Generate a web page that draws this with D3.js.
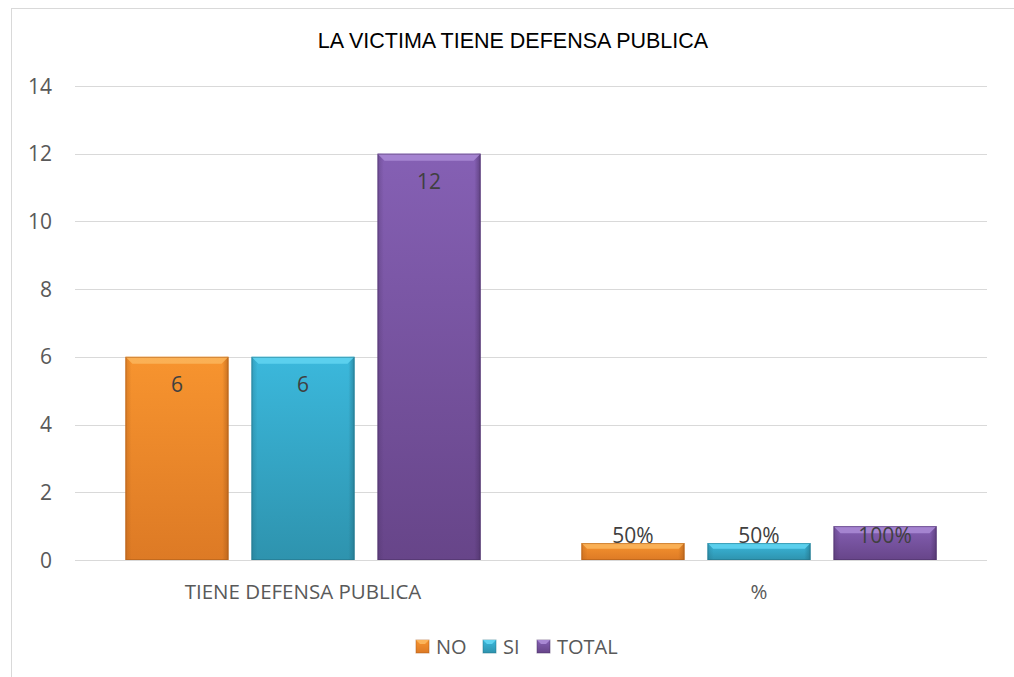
<!DOCTYPE html>
<html lang="es">
<head>
<meta charset="utf-8">
<title>LA VICTIMA TIENE DEFENSA PUBLICA</title>
<script src="https://d3js.org/d3.v7.min.js"></script>
<style>
  body{margin:0;background:#fff;}
  svg{display:block;}
</style>
</head>
<body>
<div id="chart"></div>
<script>
// data
var categories = ["TIENE DEFENSA PUBLICA", "%"]
var seriesNames = ["NO", "SI", "TOTAL"]
var noValues = [6, 0.5]
var siValues = [6, 0.5]
var totalValues = [12, 1]
var noLabels = ["6", "50%"]
var siLabels = ["6", "50%"]
var totalLabels = ["12", "100%"]
var yTicks = [0, 2, 4, 6, 8, 10, 12, 14]

var colors = {
  NO:    {light:"#fbb45a", mid:"#f7942f", dark:"#dd7a25", edge:"#a85a18"},
  SI:    {light:"#5fd3f0", mid:"#3bb8dc", dark:"#2e93ae", edge:"#226f84"},
  TOTAL: {light:"#a988d4", mid:"#8560b4", dark:"#674589", edge:"#4a3064"}
}
var font = "Open Sans, Liberation Sans, sans-serif"

var w = 1014, h = 677
var svg = d3.select("#chart").append("svg").attr("width", w).attr("height", h)

// outer chart frame
svg.append("rect").attr("x", 11.5).attr("y", 8.5).attr("width", w + 10).attr("height", h + 10)
  .attr("fill", "#fff").attr("stroke", "#d9d9d9").attr("stroke-width", 1)

// gradients for a bevelled look
var defs = svg.append("defs")
seriesNames.forEach(function(s){
  var c = colors[s]
  var g = defs.append("linearGradient").attr("id", "v-" + s).attr("x1", 0).attr("y1", 0).attr("x2", 0).attr("y2", 1)
  g.append("stop").attr("offset", "0%").attr("stop-color", c.mid)
  g.append("stop").attr("offset", "100%").attr("stop-color", c.dark)
  var gh = defs.append("linearGradient").attr("id", "h-" + s).attr("x1", 0).attr("y1", 0).attr("x2", 1).attr("y2", 0)
  gh.append("stop").attr("offset", "0%").attr("stop-color", c.edge).attr("stop-opacity", 0.35)
  gh.append("stop").attr("offset", "6%").attr("stop-color", c.edge).attr("stop-opacity", 0)
  gh.append("stop").attr("offset", "94%").attr("stop-color", c.edge).attr("stop-opacity", 0)
  gh.append("stop").attr("offset", "100%").attr("stop-color", c.edge).attr("stop-opacity", 0.6)
})

var yScale = d3.scaleLinear().domain([0, 14]).range([560, 86])
var xScale = d3.scaleBand().domain(categories).range([75, 987])
var xSub = d3.scaleBand().domain(seriesNames).range([0, xScale.bandwidth()]).paddingInner(0.1825).paddingOuter(0.4)

// title
svg.append("text").attr("x", 513).attr("y", 48).attr("text-anchor", "middle")
  .attr("font-family", "Liberation Sans, Arial, sans-serif").attr("font-size", 21.5).attr("fill", "#000")
  .text("LA VICTIMA TIENE DEFENSA PUBLICA")

// gridlines
svg.selectAll("line.grid").data(yTicks).enter().append("line").attr("class", "grid")
  .attr("x1", 75).attr("x2", 987)
  .attr("y1", function(d){ return Math.round(yScale(d)) + 0.5 })
  .attr("y2", function(d){ return Math.round(yScale(d)) + 0.5 })
  .attr("stroke", "#d9d9d9").attr("stroke-width", 1.2)

// y tick labels
svg.selectAll("text.ytick").data(yTicks).enter().append("text").attr("class", "ytick")
  .attr("x", 52).attr("y", function(d){ return yScale(d) + 7.5 })
  .attr("text-anchor", "end")
  .attr("font-family", font).attr("font-size", 21).attr("fill", "#595959")
  .text(function(d){ return d })

// flatten series into bars
var bars = []
var valuesBySeries = {NO: noValues, SI: siValues, TOTAL: totalValues}
var labelsBySeries = {NO: noLabels, SI: siLabels, TOTAL: totalLabels}
categories.forEach(function(cat, i){
  seriesNames.forEach(function(s){
    bars.push({cat: cat, series: s, value: valuesBySeries[s][i], label: labelsBySeries[s][i]})
  })
})

var barG = svg.selectAll("g.bar").data(bars).enter().append("g").attr("class", "bar")
  .attr("transform", function(d){ return "translate(" + (xScale(d.cat) + xSub(d.series)) + ",0)" })

barG.append("rect")
  .attr("y", function(d){ return yScale(d.value) })
  .attr("width", xSub.bandwidth())
  .attr("height", function(d){ return yScale(0) - yScale(d.value) })
  .attr("fill", function(d){ return "url(#v-" + d.series + ")" })
barG.append("rect")
  .attr("y", function(d){ return yScale(d.value) })
  .attr("width", xSub.bandwidth())
  .attr("height", function(d){ return yScale(0) - yScale(d.value) })
  .attr("fill", function(d){ return "url(#h-" + d.series + ")" })
// top bevel strip
barG.append("path")
  .attr("d", function(d){
    var t = yScale(d.value), bw = xSub.bandwidth()
    var b = Math.min(7, (yScale(0) - t) / 3)
    return "M0," + t + "L" + bw + "," + t + "L" + (bw - b) + "," + (t + b) + "L" + b + "," + (t + b) + "Z"
  })
  .attr("fill", function(d){ return colors[d.series].light }).attr("opacity", 0.9)
barG.append("rect")
  .attr("y", function(d){ return yScale(d.value) + 0.5 })
  .attr("x", 0.5)
  .attr("width", xSub.bandwidth() - 1)
  .attr("height", function(d){ return yScale(0) - yScale(d.value) - 1 })
  .attr("fill", "none").attr("stroke", function(d){ return colors[d.series].edge }).attr("stroke-opacity", 0.5)

// value labels
barG.append("text")
  .attr("x", xSub.bandwidth() / 2)
  .attr("y", function(d){ return Math.min(yScale(d.value) + 35, yScale(0) - 17) })
  .attr("text-anchor", "middle")
  .attr("font-family", font).attr("font-size", 21).attr("fill", "#404040")
  .text(function(d){ return d.label })

// category labels
svg.selectAll("text.cat").data(categories).enter().append("text").attr("class", "cat")
  .attr("x", function(d){ return xScale(d) + xScale.bandwidth() / 2 })
  .attr("y", 599).attr("text-anchor", "middle")
  .attr("font-family", font).attr("font-size", 20.5).attr("fill", "#595959")
  .text(function(d){ return d })

// legend
var legendX = [416, 483, 537]
var legend = svg.selectAll("g.legend").data(seriesNames).enter().append("g").attr("class", "legend")
  .attr("transform", function(d, i){ return "translate(" + legendX[i] + ",640)" })
legend.append("rect").attr("width", 13).attr("height", 13)
  .attr("fill", function(d){ return "url(#v-" + d + ")" })
  .attr("stroke", function(d){ return colors[d].edge }).attr("stroke-opacity", 0.5)
legend.append("path").attr("d", "M0,0L13,0L9,4L4,4Z").attr("fill", function(d){ return colors[d].light })
legend.append("text").attr("x", 20).attr("y", 13.5)
  .attr("font-family", font).attr("font-size", 20).attr("fill", "#595959")
  .text(function(d){ return d })
</script>
</body>
</html>
